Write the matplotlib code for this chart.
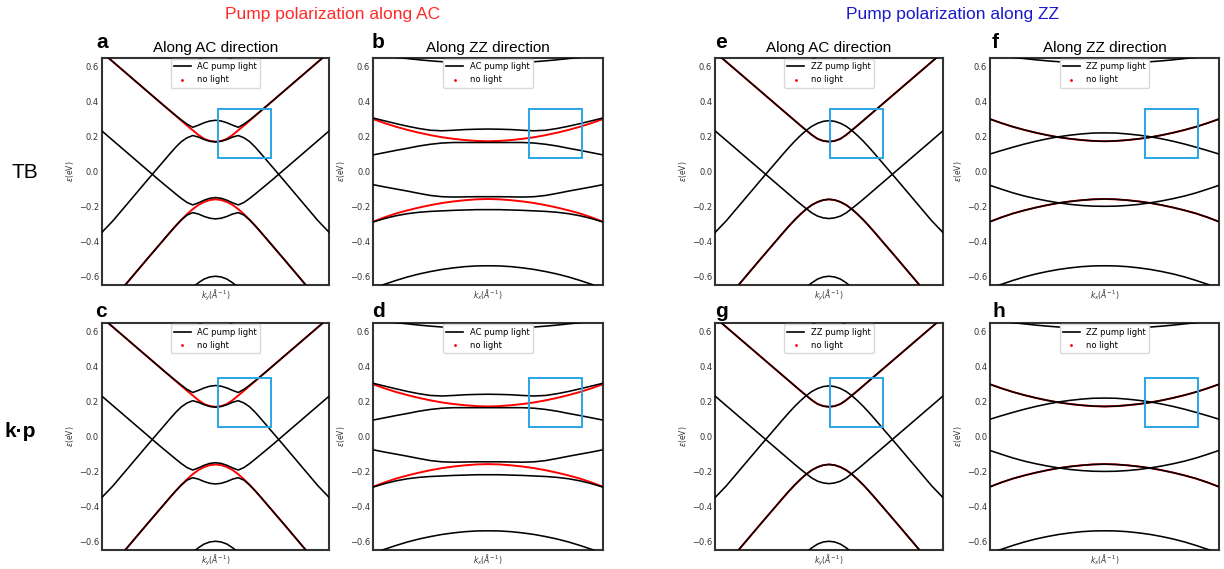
import matplotlib.pyplot as plt
from matplotlib.lines import Line2D
from matplotlib.patches import Rectangle

# normalised momentum grids (the original has no k tick labels)
k_ac = [-1.0, -0.9, -0.8, -0.7, -0.6, -0.5, -0.45, -0.4, -0.35, -0.3, -0.25, -0.2, -0.15, -0.1, -0.05, 0.0,
        0.05, 0.1, 0.15, 0.2, 0.25, 0.3, 0.35, 0.4, 0.45, 0.5, 0.6, 0.7, 0.8, 0.9, 1.0]
k_ac_arc = [-0.25, -0.2, -0.15, -0.1, -0.05, 0.0, 0.05, 0.1, 0.15, 0.2, 0.25]
k_zz = [-1.0, -0.9, -0.8, -0.7, -0.6, -0.5, -0.4, -0.3, -0.2, -0.1, 0.0,
        0.1, 0.2, 0.3, 0.4, 0.5, 0.6, 0.7, 0.8, 0.9, 1.0]

# ---- along AC, no light (eV)
ac_cb = [0.682, 0.626, 0.570, 0.514, 0.458, 0.402, 0.374, 0.346, 0.318, 0.290, 0.262, 0.235, 0.208, 0.186, 0.174, 0.170,
         0.174, 0.186, 0.208, 0.235, 0.262, 0.290, 0.318, 0.346, 0.374, 0.402, 0.458, 0.514, 0.570, 0.626, 0.682]
ac_vb = [-0.800, -0.732, -0.655, -0.578, -0.501, -0.425, -0.387, -0.349, -0.312, -0.277, -0.245, -0.216, -0.192, -0.175, -0.164, -0.160,
         -0.164, -0.175, -0.192, -0.216, -0.245, -0.277, -0.312, -0.349, -0.387, -0.425, -0.501, -0.578, -0.655, -0.732, -0.800]
# along AC, AC pump (gapped crossings)
ac_acp_u1 = [0.682, 0.626, 0.570, 0.514, 0.458, 0.402, 0.374, 0.347, 0.320, 0.294, 0.270, 0.252, 0.264, 0.278, 0.288, 0.292,
             0.288, 0.278, 0.264, 0.252, 0.270, 0.294, 0.320, 0.347, 0.374, 0.402, 0.458, 0.514, 0.570, 0.626, 0.682]
ac_acp_u2 = [-0.350, -0.282, -0.205, -0.128, -0.051, 0.025, 0.063, 0.101, 0.138, 0.170, 0.192, 0.205, 0.196, 0.182, 0.172, 0.168,
             0.172, 0.182, 0.196, 0.205, 0.192, 0.170, 0.138, 0.101, 0.063, 0.025, -0.051, -0.128, -0.205, -0.282, -0.350]
ac_acp_l1 = [0.232, 0.176, 0.120, 0.064, 0.008, -0.048, -0.075, -0.102, -0.129, -0.155, -0.178, -0.192, -0.180, -0.165, -0.154, -0.150,
             -0.154, -0.165, -0.180, -0.192, -0.178, -0.155, -0.129, -0.102, -0.075, -0.048, 0.008, 0.064, 0.120, 0.176, 0.232]
ac_acp_l2 = [-0.800, -0.732, -0.655, -0.578, -0.501, -0.425, -0.387, -0.349, -0.312, -0.278, -0.250, -0.236, -0.244, -0.258, -0.268, -0.272,
             -0.268, -0.258, -0.244, -0.236, -0.250, -0.278, -0.312, -0.349, -0.387, -0.425, -0.501, -0.578, -0.655, -0.732, -0.800]
# along AC, ZZ pump (side bands cross freely)
ac_zzp_up = [-0.350, -0.282, -0.205, -0.128, -0.051, 0.025, 0.063, 0.101, 0.138, 0.173, 0.205, 0.234, 0.258, 0.275, 0.286, 0.290,
             0.286, 0.275, 0.258, 0.234, 0.205, 0.173, 0.138, 0.101, 0.063, 0.025, -0.051, -0.128, -0.205, -0.282, -0.350]
ac_zzp_dn = [0.232, 0.176, 0.120, 0.064, 0.008, -0.048, -0.076, -0.104, -0.132, -0.160, -0.187, -0.213, -0.238, -0.256, -0.266, -0.270,
             -0.266, -0.256, -0.238, -0.213, -0.187, -0.160, -0.132, -0.104, -0.076, -0.048, 0.008, 0.064, 0.120, 0.176, 0.232]
ac_arc_top = [0.700, 0.676, 0.652, 0.636, 0.626, 0.622, 0.626, 0.636, 0.652, 0.676, 0.700]
ac_arc_bot = [-0.695, -0.664, -0.637, -0.616, -0.604, -0.600, -0.604, -0.616, -0.637, -0.664, -0.695]

# ---- along ZZ, no light
zz_cb = [0.299, 0.276, 0.255, 0.237, 0.221, 0.207, 0.195, 0.186, 0.179, 0.174, 0.172,
         0.174, 0.179, 0.186, 0.195, 0.207, 0.221, 0.237, 0.255, 0.276, 0.299]
zz_vb = [-0.288, -0.263, -0.241, -0.223, -0.207, -0.193, -0.181, -0.172, -0.165, -0.160, -0.158,
         -0.160, -0.165, -0.172, -0.181, -0.193, -0.207, -0.223, -0.241, -0.263, -0.288]
# along ZZ, AC pump
zz_acp_u1 = [0.305, 0.289, 0.273, 0.258, 0.245, 0.235, 0.232, 0.235, 0.239, 0.241, 0.242,
             0.241, 0.239, 0.235, 0.232, 0.235, 0.245, 0.258, 0.273, 0.289, 0.305]
zz_acp_u2 = [0.094, 0.107, 0.120, 0.132, 0.145, 0.155, 0.162, 0.165, 0.165, 0.165, 0.165,
             0.165, 0.165, 0.165, 0.162, 0.155, 0.145, 0.132, 0.120, 0.107, 0.094]
zz_acp_l1 = [-0.076, -0.089, -0.101, -0.113, -0.126, -0.138, -0.145, -0.147, -0.146, -0.145, -0.145,
             -0.145, -0.146, -0.147, -0.145, -0.138, -0.126, -0.113, -0.101, -0.089, -0.076]
zz_acp_l2 = [-0.290, -0.270, -0.254, -0.242, -0.234, -0.229, -0.226, -0.223, -0.221, -0.219, -0.219,
             -0.219, -0.221, -0.223, -0.226, -0.229, -0.234, -0.242, -0.254, -0.270, -0.290]
# along ZZ, ZZ pump
zz_zzp_up = [0.099, 0.119, 0.138, 0.156, 0.172, 0.186, 0.198, 0.207, 0.214, 0.219, 0.220,
             0.219, 0.214, 0.207, 0.198, 0.186, 0.172, 0.156, 0.138, 0.119, 0.099]
zz_zzp_dn = [-0.080, -0.102, -0.123, -0.141, -0.156, -0.169, -0.180, -0.189, -0.195, -0.199, -0.200,
             -0.199, -0.195, -0.189, -0.180, -0.169, -0.156, -0.141, -0.123, -0.102, -0.080]
zz_arc_top = [0.669, 0.660, 0.652, 0.645, 0.638, 0.632, 0.627, 0.623, 0.620, 0.618, 0.617,
              0.618, 0.620, 0.623, 0.627, 0.632, 0.638, 0.645, 0.652, 0.660, 0.669]
zz_arc_bot = [-0.671, -0.646, -0.624, -0.604, -0.587, -0.573, -0.561, -0.552, -0.545, -0.541, -0.540,
              -0.541, -0.545, -0.552, -0.561, -0.573, -0.587, -0.604, -0.624, -0.646, -0.671]

yticks = [-0.6, -0.4, -0.2, 0.0, 0.2, 0.4, 0.6]

SANS = 'Liberation Sans'
W, H = 1224, 569
fig = plt.figure(figsize=(12.24, 5.69), dpi=100)

def px(x, y):
    return x / W, 1 - y / H

def panel(rect, k, dark, light, arc_k, arcs, pump, xlab, box, title=None):
    ax = fig.add_axes(rect)
    for e in light:
        ax.plot(k, e, color='red', lw=1.4, zorder=2)
    for e in dark:
        ax.plot(k, e, color='black', lw=1.15, zorder=3)
    for e in arcs:
        ax.plot(arc_k, e, color='black', lw=1.15, zorder=3)
    ax.add_patch(Rectangle((box[0], box[2]), box[1] - box[0], box[3] - box[2],
                           fill=False, ec='#2aa5e5', lw=1.4, zorder=4))
    ax.set_xlim(-1, 1)
    ax.set_ylim(-0.65, 0.65)
    ax.set_xticks([])
    ax.set_yticks(yticks)
    ax.tick_params(axis='y', length=0, pad=2, labelsize=6, labelcolor='#333333')
    for s in ax.spines.values():
        s.set_color('#333333')
        s.set_linewidth(1.5)
    ax.set_ylabel(r'$\varepsilon$(eV)', fontsize=5.5, labelpad=2, color='#333333')
    ax.set_xlabel(xlab, fontsize=5.5, labelpad=2, color='#333333')
    handles = [Line2D([], [], color='black', lw=1.2),
               Line2D([], [], color='red', marker='.', ls='none', markersize=2)]
    ax.legend(handles, [pump + ' pump light', 'no light'], loc='upper center', fontsize=6,
              borderaxespad=0.15, framealpha=1, edgecolor='0.85', fancybox=True)
    if title:
        ax.set_title(title, fontsize=11, family=SANS, pad=4)
    return ax

row_y = [(569 - 285) / H, 19 / H]
row_h = [227.3 / H, 227 / H]
cols = [(101.7, 227.6), (373, 230), (715, 228), (990, 229)]
ky = r'$k_y(\AA^{-1})$'
kx = r'$k_x(\AA^{-1})$'
boxes_top = [(0.025, 0.49, 0.078, 0.355), (0.354, 0.815, 0.078, 0.355),
             (0.01, 0.475, 0.078, 0.355), (0.354, 0.82, 0.078, 0.355)]
boxes_bot = [(0.025, 0.49, 0.053, 0.335), (0.354, 0.815, 0.053, 0.335),
             (0.01, 0.475, 0.053, 0.335), (0.354, 0.82, 0.053, 0.335)]

for r in range(2):
    boxes = boxes_top if r == 0 else boxes_bot
    rects = [(c[0] / W, row_y[r], c[1] / W, row_h[r]) for c in cols]
    t0 = 'Along AC direction' if r == 0 else None
    t1 = 'Along ZZ direction' if r == 0 else None
    panel(rects[0], k_ac, [ac_acp_u1, ac_acp_u2, ac_acp_l1, ac_acp_l2], [ac_cb, ac_vb],
          k_ac_arc, [ac_arc_top, ac_arc_bot], 'AC', ky, boxes[0], t0)
    panel(rects[1], k_zz, [zz_acp_u1, zz_acp_u2, zz_acp_l1, zz_acp_l2], [zz_cb, zz_vb],
          k_zz, [zz_arc_top, zz_arc_bot], 'AC', kx, boxes[1], t1)
    panel(rects[2], k_ac, [ac_cb, ac_vb, ac_zzp_up, ac_zzp_dn], [ac_cb, ac_vb],
          k_ac_arc, [ac_arc_top, ac_arc_bot], 'ZZ', ky, boxes[2], t0)
    panel(rects[3], k_zz, [zz_cb, zz_vb, zz_zzp_up, zz_zzp_dn], [zz_cb, zz_vb],
          k_zz, [zz_arc_top, zz_arc_bot], 'ZZ', kx, boxes[3], t1)

# panel letters
for lab, x, y in [('a', 96, 48), ('b', 372, 48), ('e', 715, 48), ('f', 992, 48),
                  ('c', 95, 317), ('d', 372, 317), ('g', 715, 317), ('h', 993, 317)]:
    fig.text(*px(x, y), lab, fontsize=15, fontweight='bold', family=SANS, va='baseline')

fig.text(*px(12, 178), 'TB', fontsize=15, family=SANS, va='baseline')
fig.text(*px(5, 437), 'k·p', fontsize=15, fontweight='bold', family=SANS, va='baseline')

fig.text(*px(333, 14), 'Pump polarization along AC', fontsize=12.5, family=SANS,
         color='#ff2a2a', ha='center', va='center')
fig.text(*px(953, 14), 'Pump polarization along ZZ', fontsize=12.5, family=SANS,
         color='#1a1acc', ha='center', va='center')

fig.savefig('out.png', dpi=100)
